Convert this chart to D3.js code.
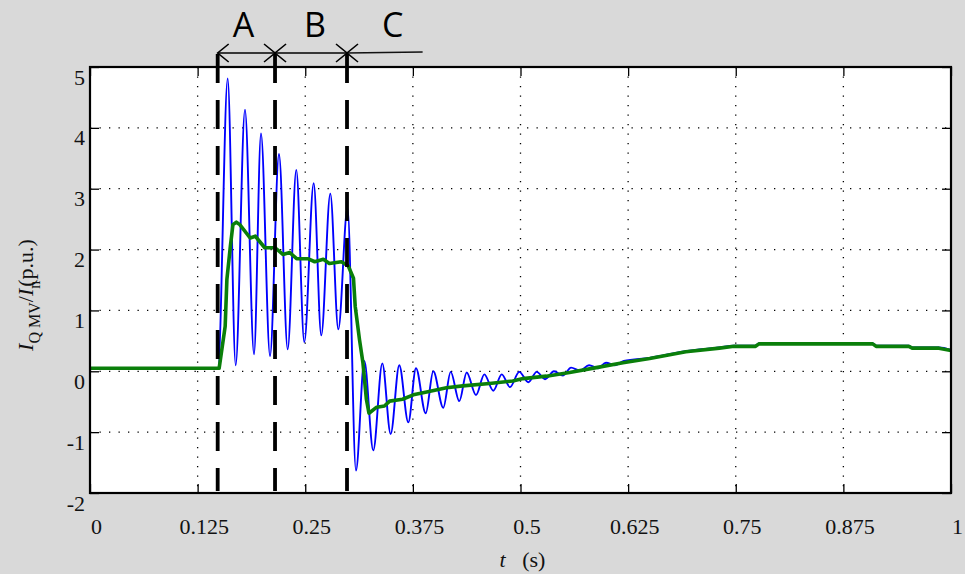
<!DOCTYPE html>
<html>
<head>
<meta charset="utf-8">
<script src="https://cdn.jsdelivr.net/npm/d3@7"></script>
<style>
  body { margin: 0; background: #d9d9d9; }
  .grid line { stroke: #000; stroke-width: 1.3; stroke-dasharray: 1.3,8.2; }
</style>
</head>
<body>
<div id="chart"></div>
<script>
// time axis ticks and value axis ticks
var xTicks = [0, 0.125, 0.25, 0.375, 0.5, 0.625, 0.75, 0.875, 1];
var xTickLabels = ["0", "0.125", "0.25", "0.375", "0.5", "0.625", "0.75", "0.875", "1"];
var yTicks = [-2, -1, 0, 1, 2, 3, 4, 5];
var yTickLabels = ["-2", "-1", "0", "1", "2", "3", "4", "5"];

// blue: instantaneous current (read peak by peak)
var blueT = [0, 0.1487, 0.1599, 0.1692, 0.1800, 0.1905, 0.1986, 0.2091, 0.2195, 0.2296,
  0.2396, 0.2489, 0.2598, 0.2686, 0.2791, 0.2884, 0.2991, 0.3089, 0.3186, 0.3290,
  0.3395, 0.3492, 0.3592, 0.3697, 0.3786, 0.3899, 0.3987, 0.4103, 0.4189, 0.4289,
  0.4375, 0.4483, 0.4580, 0.4684, 0.4782, 0.4878, 0.4986, 0.5091, 0.5188, 0.5285,
  0.5389, 0.5494, 0.5587, 0.5691, 0.5796, 0.5900, 0.5993, 0.6098, 0.620, 0.650,
  0.692, 0.731, 0.748, 0.773, 0.777, 0.909, 0.913, 0.951, 0.955, 0.986, 1.0];
var blueV = [0.05, 0.05, 4.81, 0.10, 4.30, 0.28, 3.91, 0.25, 3.57, 0.36,
  3.31, 0.48, 3.09, 0.59, 2.92, 0.69, 2.69, -1.63, 0.17, -1.30,
  0.13, -1.03, 0.10, -0.84, 0.05, -0.69, 0.00, -0.60, -0.01, -0.49,
  -0.02, -0.39, -0.05, -0.32, -0.05, -0.26, -0.01, -0.18, -0.01, -0.13,
  0.00, -0.07, 0.06, 0.01, 0.10, 0.05, 0.14, 0.10, 0.17, 0.22,
  0.33, 0.39, 0.42, 0.42, 0.46, 0.46, 0.42, 0.42, 0.39, 0.39, 0.35];

// green: rms envelope
var greenT = [0, 0.150, 0.157, 0.159, 0.163, 0.166, 0.170, 0.174, 0.186, 0.192,
  0.203, 0.215, 0.224, 0.232, 0.240, 0.253, 0.261, 0.271, 0.278, 0.292,
  0.300, 0.306, 0.308, 0.313, 0.317, 0.321, 0.324, 0.333, 0.342, 0.348,
  0.363, 0.377, 0.391, 0.414, 0.433, 0.464, 0.491, 0.503, 0.530, 0.557,
  0.588, 0.619, 0.650, 0.692, 0.731, 0.748, 0.773, 0.777, 0.909, 0.913,
  0.951, 0.955, 0.986, 1.0];
var greenV = [0.05, 0.05, 0.74, 1.51, 2.05, 2.41, 2.45, 2.41, 2.19, 2.22,
  2.03, 2.03, 1.92, 1.95, 1.85, 1.85, 1.80, 1.84, 1.77, 1.80,
  1.73, 1.53, 1.07, 0.52, 0.14, -0.46, -0.69, -0.59, -0.57, -0.49,
  -0.46, -0.38, -0.34, -0.27, -0.24, -0.20, -0.16, -0.12, -0.08, -0.02,
  0.06, 0.14, 0.21, 0.32, 0.38, 0.41, 0.41, 0.45, 0.45, 0.41,
  0.41, 0.38, 0.38, 0.34];

// phase boundaries
var phaseT = [0.1483, 0.2149, 0.2985];
var phaseLabels = ["A", "B", "C"];
var phaseLabelT = [0.1784, 0.2613, 0.3516];
var phaseEndT = 0.3863;

var margin = {top: 67, right: 14, bottom: 81, left: 90},
    width = 965 - margin.left - margin.right,
    height = 574 - margin.top - margin.bottom;

var serif = "'Liberation Serif', 'Times New Roman', serif";

var x = d3.scaleLinear()
    .domain([0, 1])
    .range([0, width]);

var y = d3.scaleLinear()
    .domain([-2, 5])
    .range([height, 0]);

var svg = d3.select("#chart").append("svg")
    .attr("width", 965)
    .attr("height", 574)
    .style("display", "block")
    .append("g")
    .attr("transform", "translate(" + margin.left + "," + margin.top + ")");

svg.append("rect")
    .attr("width", width)
    .attr("height", height)
    .attr("fill", "#fff");

// dotted grid
svg.append("g")
    .attr("class", "grid")
    .selectAll("line")
    .data(xTicks.slice(1, -1))
    .enter().append("line")
    .attr("x1", function(d) { return x(d); })
    .attr("x2", function(d) { return x(d); })
    .attr("y1", 0)
    .attr("y2", height);

svg.append("g")
    .attr("class", "grid")
    .selectAll("line")
    .data(yTicks.slice(1, -1))
    .enter().append("line")
    .attr("y1", function(d) { return y(d); })
    .attr("y2", function(d) { return y(d); })
    .attr("x1", 0)
    .attr("x2", width);

// axes, ticks pointing inward
var xAxis = d3.axisBottom(x)
    .tickValues(xTicks)
    .tickSize(-9)
    .tickPadding(21)
    .tickFormat(function(d, i) { return xTickLabels[i]; });

var gx = svg.append("g")
    .attr("transform", "translate(0," + height + ")")
    .call(xAxis);
gx.select(".domain").remove();
gx.selectAll(".tick text").attr("dx", 6).attr("dy", "0.9em");

var gxTop = svg.append("g")
    .call(d3.axisTop(x).tickValues(xTicks).tickSize(-9).tickFormat(""));
gxTop.select(".domain").remove();

var yAxis = d3.axisLeft(y)
    .tickValues(yTicks)
    .tickSize(-9)
    .tickPadding(5)
    .tickFormat(function(d, i) { return yTickLabels[i]; });

var gy = svg.append("g").call(yAxis);
gy.select(".domain").remove();
gy.selectAll(".tick text").attr("dy", 17).attr("y", 0);

var gyRight = svg.append("g")
    .attr("transform", "translate(" + width + ",0)")
    .call(d3.axisRight(y).tickValues(yTicks).tickSize(-9).tickFormat(""));
gyRight.select(".domain").remove();

svg.selectAll(".tick line").attr("stroke", "#000").attr("stroke-width", 1.3);
svg.selectAll(".tick text")
    .style("font-family", serif)
    .style("font-size", "22px")
    .attr("fill", "#111");

// blue current
var blueLine = d3.line()
    .x(function(d) { return x(blueT[d]); })
    .y(function(d) { return y(blueV[d]); })
    .curve(d3.curveMonotoneX);

svg.append("path")
    .datum(d3.range(blueT.length))
    .attr("d", blueLine)
    .attr("fill", "none")
    .attr("stroke", "#0000ff")
    .attr("stroke-width", 1.9);

// green envelope
var greenLine = d3.line()
    .x(function(d) { return x(greenT[d]); })
    .y(function(d) { return y(greenV[d]); });

svg.append("path")
    .datum(d3.range(greenT.length))
    .attr("d", greenLine)
    .attr("fill", "none")
    .attr("stroke", "#0a7f0a")
    .attr("stroke-width", 3.6)
    .attr("stroke-linejoin", "round");

// frame
svg.append("rect")
    .attr("width", width)
    .attr("height", height)
    .attr("fill", "none")
    .attr("stroke", "#000")
    .attr("stroke-width", 2.2);

// phase markers
var arrowY = -14;

svg.selectAll(".phase")
    .data(phaseT)
    .enter().append("line")
    .attr("class", "phase")
    .attr("x1", function(d) { return x(d); })
    .attr("x2", function(d) { return x(d); })
    .attr("y1", arrowY + 1)
    .attr("y2", height - 2)
    .attr("stroke", "#000")
    .attr("stroke-width", 3.8)
    .attr("stroke-dasharray", "29,17");

svg.append("line")
    .attr("x1", x(phaseT[0]))
    .attr("x2", x(phaseT[2]))
    .attr("y1", arrowY)
    .attr("y2", arrowY)
    .attr("stroke", "#000")
    .attr("stroke-width", 1.6);

svg.append("line")
    .attr("x1", x(phaseT[2]))
    .attr("x2", x(phaseEndT))
    .attr("y1", arrowY)
    .attr("y2", arrowY - 1)
    .attr("stroke", "#111")
    .attr("stroke-width", 1.4);

// open arrowheads: left-pointing at each boundary, right-pointing at the inner ones
phaseT.forEach(function(t, i) {
  var px = x(t);
  svg.append("path")
      .attr("d", "M" + (px + 11) + "," + (arrowY - 9) + "L" + px + "," + arrowY + "L" + (px + 11) + "," + (arrowY + 9))
      .attr("fill", "none")
      .attr("stroke", "#000")
      .attr("stroke-width", 1.6);
  if (i > 0) {
    svg.append("path")
        .attr("d", "M" + (px - 11) + "," + (arrowY - 9) + "L" + px + "," + arrowY + "L" + (px - 11) + "," + (arrowY + 9))
        .attr("fill", "none")
        .attr("stroke", "#000")
        .attr("stroke-width", 1.6);
  }
});

svg.selectAll(".phase-label")
    .data(phaseLabels)
    .enter().append("text")
    .attr("class", "phase-label")
    .attr("x", function(d, i) { return x(phaseLabelT[i]); })
    .attr("y", -30)
    .attr("text-anchor", "middle")
    .style("font-family", "'Open Sans', sans-serif")
    .style("font-size", "34px")
    .attr("fill", "#000")
    .text(function(d) { return d; });

// axis titles
var xTitle = svg.append("text")
    .attr("x", x(0.5) + 2)
    .attr("y", height + 74)
    .attr("text-anchor", "middle")
    .style("font-family", serif)
    .style("font-size", "22px")
    .attr("fill", "#111");
xTitle.append("tspan").style("font-style", "italic").text("t");
xTitle.append("tspan").text("\u00a0\u00a0\u00a0(s)");

var yTitle = svg.append("text")
    .attr("transform", "translate(" + (33 - margin.left) + "," + (295 - margin.top) + ") rotate(-90)")
    .attr("text-anchor", "middle")
    .style("font-family", serif)
    .style("font-size", "22px")
    .attr("fill", "#111");
yTitle.append("tspan").style("font-style", "italic").text("I");
yTitle.append("tspan").attr("dy", 7).style("font-size", "16px").text("Q\u00a0MV");
yTitle.append("tspan").attr("dy", -7).text("/");
yTitle.append("tspan").style("font-style", "italic").text("I");
yTitle.append("tspan").attr("dy", 7).style("font-size", "16px").text("n");
yTitle.append("tspan").attr("dy", -7).attr("dx", -6).text("(p.u.)");
</script>
</body>
</html>
